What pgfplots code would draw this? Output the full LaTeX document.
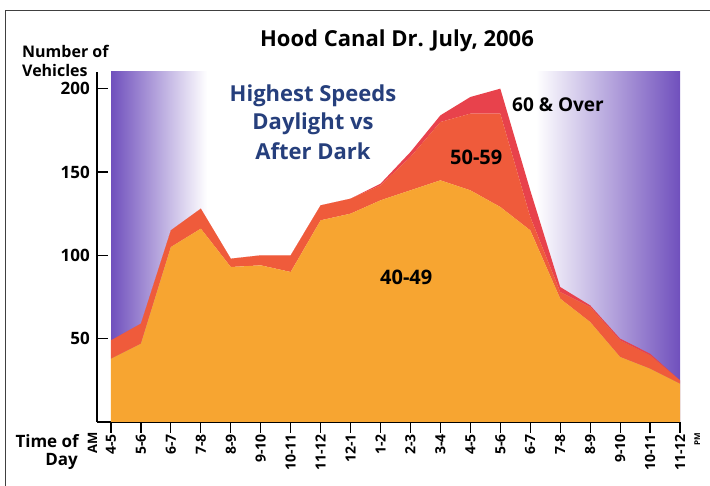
\documentclass[border=0pt]{standalone}
\usepackage{pgfplots}
\pgfplotsset{compat=1.18}
\usepackage{pgfplotstable}
\usepackage{fontspec}
\setmainfont{Open Sans}
\definecolor{c40}{HTML}{F7A531}
\definecolor{c50}{HTML}{EF5B3B}
\definecolor{c60}{HTML}{E8424C}
\definecolor{night}{HTML}{7050BD}
\definecolor{navy}{HTML}{263F7C}

\pgfplotstableread{
x a b c
0 38 11 0
1 47 12 0
2 105 10 0
3 116 12 0
4 93 5 0
5 94 6 0
6 90 10 0
7 121 9 0
8 125 9 0
9 133 9 1
10 139 20 3
11 145 35 4
12 139 46 10
13 129 56 15
14 115 8 16
15 74 4 3
16 60 9 1
17 39 10 1
18 32 8 1
19 23 2 0
}\speeds

\begin{document}
\begin{tikzpicture}
\useasboundingbox (0pt,0pt) rectangle (710pt,486pt);
\draw[line width=1pt, color=black!75] (5pt,0pt) -- (5pt,475pt) -- (710pt,475pt);
\fill[left color=night, right color=white, middle color=night!50!white] (111pt,64pt) rectangle (207pt,414pt);
\fill[left color=white, right color=night, middle color=night!50!white] (536pt,64pt) rectangle (680pt,414pt);
\begin{axis}[
  at={(97pt,64pt)}, anchor=south west,
  scale only axis, width=583pt, height=350pt,
  xmin=-0.467, xmax=19, ymin=0, ymax=210,
  axis x line=bottom, axis y line=left,
  axis line style={-, line width=1.2pt, black},
  stack plots=y,
  xtick={0,...,19},
  xticklabels={4-5,5-6,6-7,7-8,8-9,9-10,10-11,11-12,12-1,1-2,2-3,3-4,4-5,5-6,6-7,7-8,8-9,9-10,10-11,11-12},
  ytick={50,100,150,200},
  xtick align=outside, ytick align=inside,
  major tick length=11pt,
  tick style={black, line width=1.2pt},
  /pgf/number format/assume math mode=true,
  xticklabel style={rotate=90, anchor=east, font=\bfseries\fontsize{14}{14}\selectfont, inner sep=1pt},
  yticklabel style={font=\bfseries\fontsize{17}{17}\selectfont, inner sep=2pt, xshift=-5pt},
]
\addplot[fill=c40, draw=none] table[x=x,y=a]{\speeds} \closedcycle;
\addplot[fill=c50, draw=none] table[x=x,y=b]{\speeds} \closedcycle;
\addplot[fill=c60, draw=none] table[x=x,y=c]{\speeds} \closedcycle;
\end{axis}
% texts
\node[font=\bfseries\fontsize{22}{22}\selectfont, anchor=base] at (397pt,439pt) {Hood Canal Dr. July, 2006};
\node[font=\bfseries\fontsize{16}{16}\selectfont, anchor=base west, inner sep=0pt] at (22pt,428pt) {Number of};
\node[font=\bfseries\fontsize{16}{16}\selectfont, anchor=base west, inner sep=0pt] at (22pt,409pt) {Vehicles};
\node[font=\bfseries\fontsize{17}{17}\selectfont, anchor=base east, inner sep=0pt] at (79pt,38pt) {Time of};
\node[font=\bfseries\fontsize{17}{17}\selectfont, anchor=base east, inner sep=0pt] at (78pt,20pt) {Day};
\node[font=\bfseries\fontsize{13}{13}\selectfont, rotate=90, anchor=base east, inner sep=0pt] at (97pt,54pt) {AM};
\node[font=\bfseries\fontsize{8}{8}\selectfont, rotate=90, anchor=base east, inner sep=0pt] at (700pt,53pt) {PM};
\begin{scope}[navy, font=\bfseries\fontsize{22}{22}\selectfont]
\node[anchor=base, inner sep=0pt] at (313pt,384pt) {Highest Speeds};
\node[anchor=base, inner sep=0pt] at (313pt,356pt) {Daylight vs};
\node[anchor=base, inner sep=0pt] at (313pt,326pt) {After Dark};
\end{scope}
\node[font=\bfseries\fontsize{19}{19}\selectfont, anchor=base west, inner sep=0pt] at (512pt,374pt) {60 \& Over};
\node[font=\bfseries\fontsize{20}{20}\selectfont, anchor=base west, inner sep=0pt] at (450pt,321pt) {50-59};
\node[font=\bfseries\fontsize{20}{20}\selectfont, anchor=base west, inner sep=0pt] at (380pt,201pt) {40-49};
\end{tikzpicture}
\end{document}
